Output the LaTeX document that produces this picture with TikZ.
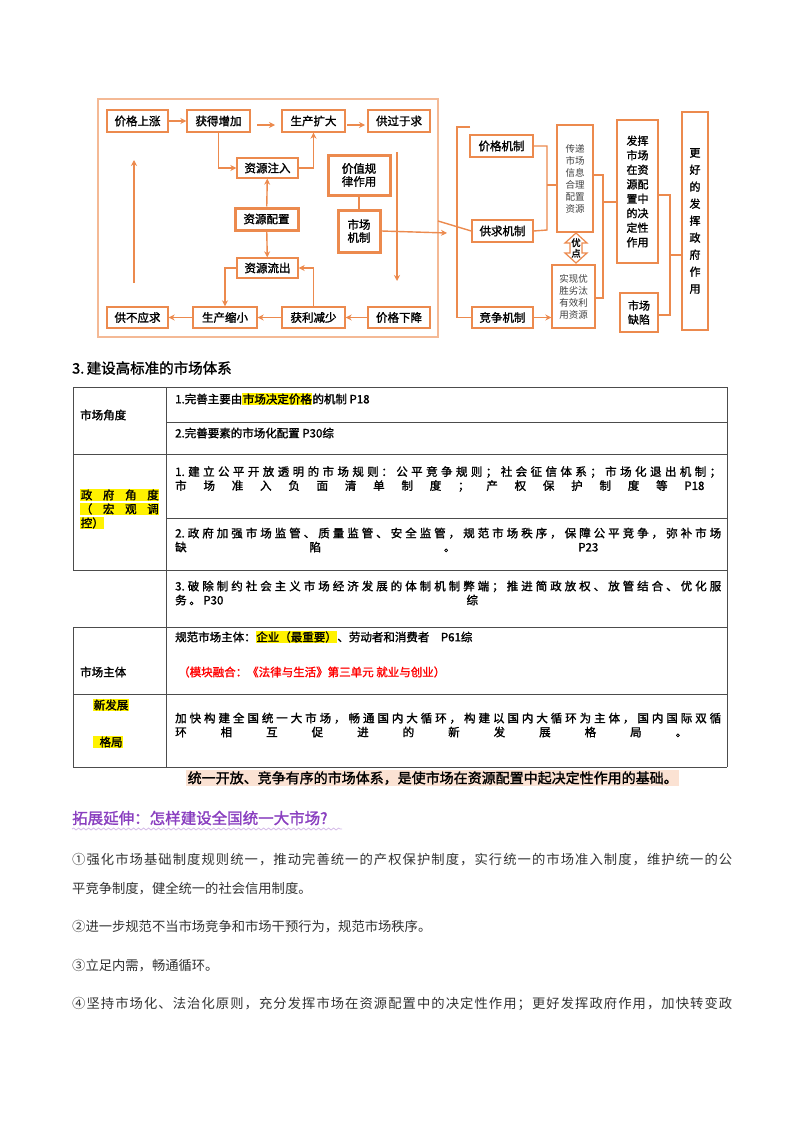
\documentclass[tikz,border=0pt]{standalone}
\usepackage{fontspec}
\setmainfont{Noto Sans CJK SC}[AutoFakeBold=1.5]
\usetikzlibrary{arrows.meta,decorations.pathmorphing}
\XeTeXinterchartokenstate=1
\newcount\ccnt
\ccnt="3000 \loop \XeTeXcharclass\ccnt=1 \advance\ccnt by 1 \ifnum\ccnt<"A000 \repeat
\ccnt="FF00 \loop \XeTeXcharclass\ccnt=1 \advance\ccnt by 1 \ifnum\ccnt<"FFF0 \repeat
\XeTeXcharclass"2460=1 \XeTeXcharclass"2461=1 \XeTeXcharclass"2462=1 \XeTeXcharclass"2463=1
\XeTeXinterchartoks 1 1 = {\hskip 0pt plus 1fil}
\XeTeXinterchartoks 0 1 = {\hskip 0pt plus 1fil}
\XeTeXinterchartoks 1 0 = {\hskip 0pt plus 1fil}
\definecolor{org}{HTML}{EC8A4E}
\definecolor{peach}{HTML}{FBE2D3}
\definecolor{purp}{HTML}{8A3FC0}
\newcommand\jl[2]{\makebox[#1pt][s]{#2}}
\newcommand\hlY[1]{{\setlength\fboxsep{0.6pt}\colorbox{yellow}{#1}}}
\begin{document}
\begin{tikzpicture}[x=1pt,y=-1pt,
  bx/.style={draw=org,line width=1.4pt,fill=white,inner sep=0pt,font=\bfseries\fontsize{11.5}{13}\selectfont,align=center},
  tbx/.style={bx,line width=3pt},
  ar/.style={draw=org,line width=1.4pt,-{Stealth[length=6pt,width=6pt]}},
  ln/.style={draw=org,line width=1.4pt},
  tl/.style={anchor=west,inner sep=0pt,font=\bfseries\fontsize{11.5}{14}\selectfont},
  pl/.style={anchor=west,inner sep=0pt,text=black!80,font=\fontsize{13.3}{16}\selectfont},
  grid/.style={draw=black!70,line width=0.8pt}]
\useasboundingbox[fill=white] (0,0) rectangle (800,1132);
% ---------- left diagram ----------
\draw[draw=org!60,line width=1.4pt] (98,99) rectangle (438,337);
\node[bx,minimum width=61pt,minimum height=22pt] (pszh) at (137.5,121) {价格上涨};
\node[bx,minimum width=63pt,minimum height=22pt] (hdzj) at (218.5,121) {获得增加};
\node[bx,minimum width=63pt,minimum height=22pt] (sckd) at (313.5,121) {生产扩大};
\node[bx,minimum width=62pt,minimum height=22pt] (ggyq) at (399,121) {供过于求};
\node[bx,minimum width=61pt,minimum height=20pt] (zyzr) at (267.5,168) {资源注入};
\node[tbx,minimum width=62pt,minimum height=40pt] (jzgl) at (359,175) {价值规\\律作用};
\node[tbx,minimum width=63pt,minimum height=22pt] (zypz) at (266.5,219) {资源配置};
\node[tbx,minimum width=42pt,minimum height=42pt] (scjz) at (359,231) {市场\\机制};
\node[bx,minimum width=61pt,minimum height=20pt] (zylc) at (267.5,268) {资源流出};
\node[bx,minimum width=61pt,minimum height=21pt] (gbyq) at (137.5,317.5) {供不应求};
\node[bx,minimum width=64pt,minimum height=21pt] (scsx) at (225,317.5) {生产缩小};
\node[bx,minimum width=63pt,minimum height=21pt] (hlss) at (313.5,317.5) {获利减少};
\node[bx,minimum width=62pt,minimum height=21pt] (jgxj) at (399,317.5) {价格下降};
\coordinate (a1) at (257,125); \coordinate (a2) at (275,125);
\coordinate (b1) at (347,125); \coordinate (b2) at (365,125);
\coordinate (v1) at (397,152); \coordinate (v2) at (397,281);
\coordinate (u1) at (134,283); \coordinate (u2) at (134,160);
\coordinate (m2) at (447,233);
\draw[ar] (pszh) -- (hdzj);
\draw[ar] (a1) -- (a2);
\draw[ar] (b1) -- (b2);
\draw[ar] (hdzj.south) -- (hdzj.south |- zyzr.west) -- (zyzr.west);
\draw[ar] (zyzr.east) -| (sckd.south);
\draw[ar] (v1) -- (v2);
\draw[ar] (u1) -- (u2);
\draw[ar] (zypz) -- (zyzr);
\draw[ar] (zypz) -- (zylc);
\draw[ln] (jzgl) -- (scjz);
\draw[ar] (scjz.east) -- (m2);
\draw[ar] (jgxj) -- (hlss);
\draw[ar] (hlss) -- (scsx);
\draw[ar] (scsx) -- (gbyq);
\draw[ar] (hlss.north) |- (zylc.east);
\draw[ar] (zylc.west) -| (scsx.north);
% ---------- right diagram ----------
\node[bx,minimum width=63pt,minimum height=22pt] (jgjz) at (501.5,146) {价格机制};
\node[bx,minimum width=61pt,minimum height=22pt] (gqjz) at (502.5,231) {供求机制};
\node[bx,minimum width=61pt,minimum height=21pt] (jzjz) at (502.5,317.5) {竞争机制};
\node[bx,minimum width=36pt,minimum height=107pt,font=\fontsize{9.5}{12}\selectfont,text=black!75] (cd) at (575,178.5) {传递\\市场\\信息\\合理\\配置\\资源};
\node[bx,minimum width=43pt,minimum height=63pt,font=\fontsize{9.5}{12}\selectfont,text=black!75] (sx) at (573.5,296.5) {实现优\\胜劣汰\\有效利\\用资源};
\node[bx,minimum width=41pt,minimum height=143pt,font=\bfseries\fontsize{11}{14.5}\selectfont] (fh) at (637.5,191.5) {发挥\\市场\\在资\\源配\\置中\\的决\\定性\\作用};
\node[bx,minimum width=38pt,minimum height=39pt,font=\bfseries\fontsize{11}{14}\selectfont] (qx) at (639,312.5) {市场\\缺陷};
\node[bx,minimum width=26pt,minimum height=218pt,font=\bfseries\fontsize{11}{17}\selectfont] (gh) at (695,221) {更\\好\\的\\发\\挥\\政\\府\\作\\用};
\draw[draw=org,line width=1.2pt,fill=white] (576,233) -- (587,243) -- (582,243) -- (582,253) -- (587,253) -- (576,263) -- (565,253) -- (570,253) -- (570,243) -- (565,243) -- cycle;
\node[inner sep=0pt,font=\bfseries\fontsize{9.5}{10.5}\selectfont,align=center] (yd) at (576,248) {优\\点};
\coordinate (k0) at (470,127); \coordinate (k1) at (457,127); \coordinate (k2) at (457,317.5);
\coordinate (f0) at (438,221);
\draw[ln] (k0) -- (k1) -- (k2) -- (jzjz.west);
\draw[ln] (f0) -- (gqjz.west);
\draw[ln] (jgjz.east) -- (547,146) -- (547,230) -- (gqjz.east);
\draw[ln] (547,185) -- (cd.west |- 0,185);
\draw[ar] (jzjz.east) -- (sx.west |- jzjz.east);
\draw[ln] (cd.east |- 0,175) -- (603,175) -- (603,298) -- (sx.east |- 0,298);
\draw[ln] (603,202) -- (fh.west |- 0,202);
\draw[ln] (fh.east |- 0,195) -- (670,195) -- (670,315) -- (qx.east |- 0,315);
\draw[ln] (670,255) -- (gh.west |- 0,255);
% ---------- title ----------
\node[anchor=west,inner sep=0pt,font=\bfseries\fontsize{14.5}{16}\selectfont] (t3) at (72,368) {3.\,建设高标准的市场体系};
% ---------- table ----------
\draw[grid] (73,387) -- (727,387);
\draw[grid] (166,422) -- (727,422);
\draw[grid] (73,454) -- (727,454);
\draw[grid] (166,518) -- (727,518);
\draw[grid] (73,570) -- (727,570);
\draw[grid] (73,627) -- (727,627);
\draw[grid] (73,694) -- (727,694);
\draw[grid] (73,767) -- (727,767);
\draw[grid] (73,387) -- (73,570);
\draw[grid] (73,627) -- (73,767);
\draw[grid] (166,387) -- (166,767);
\draw[grid] (727,387) -- (727,767);
\node[tl] (c11) at (80,415) {市场角度};
\node[tl] (c12) at (175,399) {1.完善主要由\hlY{市场决定价格}的机制 P18};
\node[tl] (c13) at (175,433) {2.完善要素的市场化配置 P30综};
\node[tl,align=left] (c21) at (80,509) {\hlY{\jl{78}{政府角度}}\\\hlY{\jl{78}{（宏观调}}\\\hlY{控）}};
\node[tl,align=left] (c22) at (175,479) {\jl{546}{1.建立公平开放透明的市场规则 ：公平竞争规则；社会征信体系；市场化退出机制；}\\市场准入负面清单制度；产权保护制度等P18};
\node[tl,align=left] (c23) at (175,540) {\jl{546}{2.政府加强市场监管、质量监管、安全监管，规范市场秩序，保障公平竞争，弥补市场}\\缺陷。P23};
\node[tl,align=left] (c31) at (175,593) {\jl{546}{3.破除制约社会主义市场经济发展的体制机制弊端；推进简政放权、放管结合、优化服}\\务 。 P30综};
\node[tl] (c41) at (80,672) {市场主体};
\node[tl] (c42) at (175,637) {规范市场主体：\hlY{企业（最重要）}、劳动者和消费者\quad P61综};
\node[tl,text=red] (c43) at (178,672) {（模块融合：《法律与生活》第三单元 就业与创业）};
\node[tl] (c51) at (93,705) {\hlY{新发展}};
\node[tl] (c52) at (93,742) {\hlY{\,\,\,格局}};
\node[tl,align=left] (c53) at (175,725) {\jl{546}{加快构建全国统一大市场，畅通国内大循环，构建以国内大循环为主体，国内国际双循}\\环相互促进的新发展格局。};
% ---------- bottom text ----------
\node[anchor=west,inner sep=1.5pt,fill=peach,font=\bfseries\fontsize{14}{16}\selectfont] (s1) at (186,778) {统一开放、竞争有序的市场体系，是使市场在资源配置中起决定性作用的基础。};
\node[anchor=west,inner sep=0pt,text=purp,font=\bfseries\fontsize{15.5}{17}\selectfont] (h1) at (72,818) {拓展延伸：怎样建设全国统一大市场?};
\draw[purp!35,line width=0.8pt,decorate,decoration={snake,amplitude=1pt,segment length=5pt}] (72,829) -- (342,829);
\node[pl] (p1) at (72,860) {\jl{660}{①强化市场基础制度规则统一，推动完善统一的产权保护制度，实行统一的市场准入制度，维护统一的公}};
\node[pl] (p2) at (72,889) {平竞争制度，健全统一的社会信用制度。};
\node[pl] (p3) at (72,927) {②进一步规范不当市场竞争和市场干预行为，规范市场秩序。};
\node[pl] (p4) at (72,966) {③立足内需，畅通循环。};
\node[pl] (p5) at (72,1004) {\jl{660}{④坚持市场化、法治化原则，充分发挥市场在资源配置中的决定性作用；更好发挥政府作用，加快转变政}};
\end{tikzpicture}
\end{document}
